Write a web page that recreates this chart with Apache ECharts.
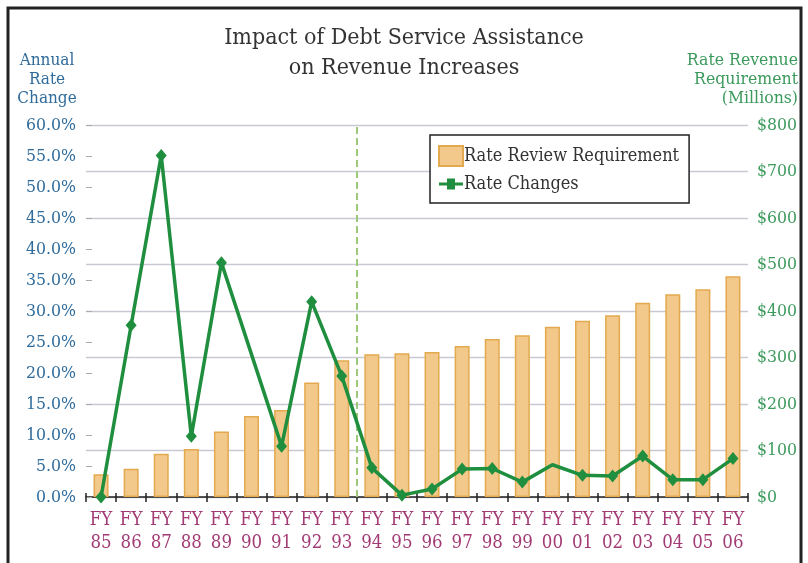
<!DOCTYPE html>
<html>
<head>
<meta charset="utf-8">
<script src="https://cdn.jsdelivr.net/npm/echarts@6/dist/echarts.min.js"></script>
<style>
html,body{margin:0;padding:0;background:#fff;}
#chart{width:808px;height:563px;}
</style>
</head>
<body>
<div id="chart"></div>
<script>
var categories = ['FY\n85','FY\n86','FY\n87','FY\n88','FY\n89','FY\n90','FY\n91','FY\n92','FY\n93','FY\n94','FY\n95','FY\n96','FY\n97','FY\n98','FY\n99','FY\n00','FY\n01','FY\n02','FY\n03','FY\n04','FY\n05','FY\n06'];
var rateReview = [49, 61, 93, 103, 141, 174, 187, 246, 294, 307, 309, 312, 325, 340, 348, 366, 379, 391, 418, 436, 447, 475];
var rateChanges = [0, 27.7, 55.1, 9.8, 37.8, null, 8.2, 31.5, 19.5, 4.7, 0.3, 1.3, 4.5, 4.6, 2.4, 5.2, 3.5, 3.4, 6.6, 2.8, 2.8, 6.2];
var leftTicks = [0, 60, 5];
var rightTicks = [0, 800, 100];
var dividerPosition = 9;

var FONT = '"DejaVu Serif Condensed", "DejaVu Serif", serif';
var chart = echarts.init(document.getElementById('chart'));
chart.setOption({
  animation: false,
  backgroundColor: '#fff',
  textStyle: {fontFamily: FONT},
  grid: {left: 86, right: 60, top: 125, bottom: 66},
  graphic: [
    {type: 'rect', shape: {x: 8, y: 8, width: 793, height: 600}, style: {fill: 'none', stroke: '#222', lineWidth: 3}, silent: true},
    {type: 'text', left: 'center', top: 23, style: {text: 'Impact of Debt Service Assistance\non Revenue Increases', font: '23px ' + FONT, fill: '#333', textAlign: 'center', lineHeight: 30}},
    {type: 'text', x: 47, y: 51, style: {text: 'Annual\nRate\nChange', font: '17px ' + FONT, fill: '#2f6b9b', textAlign: 'center', lineHeight: 19}},
    {type: 'text', x: 798, y: 51, style: {text: 'Rate Revenue\nRequirement\n(Millions)', font: '17.5px ' + FONT, fill: '#3c9a5c', textAlign: 'right', lineHeight: 19}}
  ],
  legend: {
    orient: 'vertical',
    left: 430, top: 135,
    width: 258,
    padding: [10, 10, 10, 8],
    itemGap: 8,
    itemWidth: 24, itemHeight: 20,
    borderColor: '#222', borderWidth: 1.5,
    backgroundColor: '#fff',
    textStyle: {fontFamily: FONT, fontSize: 18, color: '#333', padding: [0, 0, 0, -4]},
    data: [
      {name: 'Rate Review Requirement', icon: 'rect'},
      {name: 'Rate Changes', icon: 'path://M0,9H8V5H16V9H24V12H16V16H8V12H0Z'}
    ]
  },
  xAxis: [
    {
      type: 'category', data: categories, boundaryGap: true,
      axisLine: {lineStyle: {color: '#222', width: 1.5}},
      axisTick: {show: true, interval: 0, length: 5, lineStyle: {color: '#222', width: 1.5}},
      axisLabel: {interval: 0, color: '#a23a73', fontSize: 18.5, lineHeight: 23, margin: 12, fontFamily: FONT}
    },
    {type: 'value', min: 0, max: 22, show: false},
    {
      type: 'category', data: categories, boundaryGap: true, position: 'bottom',
      axisLine: {show: false},
      axisTick: {show: true, inside: true, interval: 0, length: 4, lineStyle: {color: '#222', width: 1.5}},
      axisLabel: {show: false}
    }
  ],
  yAxis: [
    {
      type: 'value', min: leftTicks[0], max: leftTicks[1], interval: leftTicks[2], position: 'left',
      axisLine: {show: false},
      axisTick: {show: true, inside: true, length: 6, lineStyle: {color: '#aaa'}},
      splitLine: {show: false},
      axisLabel: {color: '#2f6b9b', fontSize: 17.5, margin: 10, fontFamily: FONT, formatter: function (v) { return v.toFixed(1) + '%'; }}
    },
    {
      type: 'value', min: rightTicks[0], max: rightTicks[1], interval: rightTicks[2], position: 'right',
      axisLine: {show: false},
      axisTick: {show: false},
      splitLine: {show: true, lineStyle: {color: '#c9c9d6', width: 1.3}},
      axisLabel: {color: '#3c9a5c', fontSize: 17.5, margin: 9, fontFamily: FONT, formatter: function (v) { return '$' + v; }}
    }
  ],
  series: [
    {
      name: 'Rate Review Requirement', type: 'bar', yAxisIndex: 1, data: rateReview,
      barWidth: 15,
      itemStyle: {color: '#f2c98a', borderColor: '#e3a94f', borderWidth: 1.5}
    },
    {
      name: 'divider', type: 'line', xAxisIndex: 1, yAxisIndex: 0, data: [],
      markLine: {
        silent: true, symbol: 'none', label: {show: false},
        lineStyle: {color: '#9cc97a', type: [7, 4], width: 2},
        data: [{xAxis: dividerPosition}]
      }
    },
    {
      name: 'Rate Changes', type: 'line', yAxisIndex: 0, data: rateChanges,
      connectNulls: true,
      symbol: 'diamond',
      symbolSize: function (v, p) { return p.dataIndex === 15 ? 0 : [11, 13]; },
      lineStyle: {color: '#1f8f3f', width: 3.5},
      itemStyle: {color: '#1f8f3f'},
      z: 5
    }
  ]
});
</script>
</body>
</html>
